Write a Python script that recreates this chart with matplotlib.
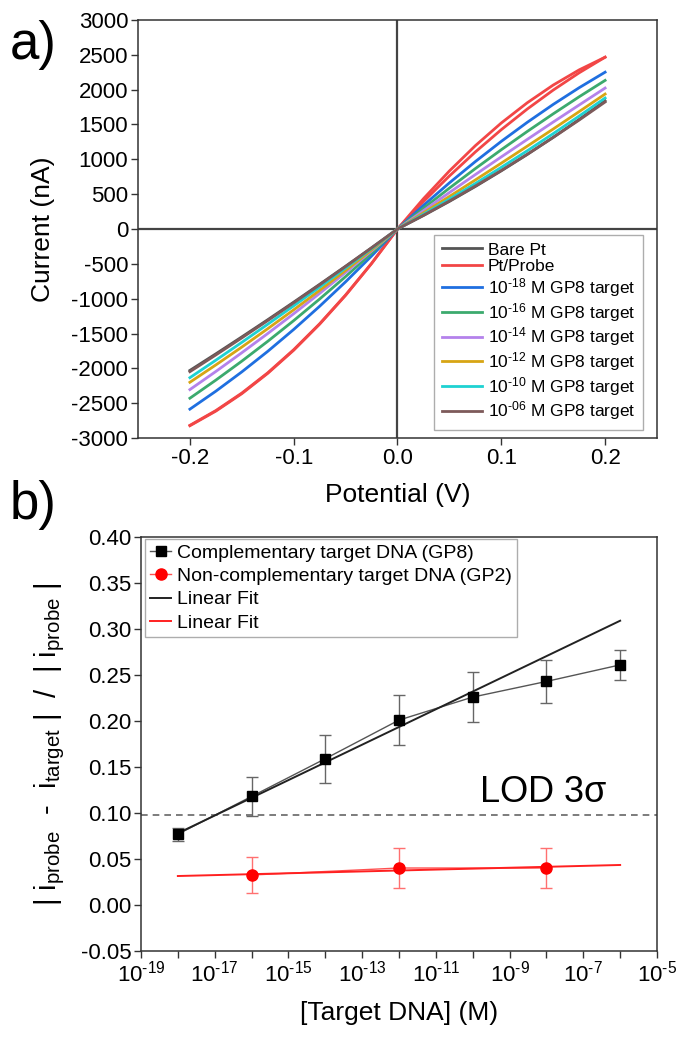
import matplotlib
matplotlib.use("Agg")
import matplotlib.pyplot as plt
import numpy as np
from matplotlib.lines import Line2D

plt.rcParams['font.family'] = ['Liberation Sans', 'DejaVu Sans']
plt.rcParams['mathtext.fontset'] = 'custom'
plt.rcParams['mathtext.rm'] = 'Liberation Sans'
plt.rcParams['mathtext.it'] = 'Liberation Sans:italic'
plt.rcParams['mathtext.default'] = 'regular'

# ---------------- panel a data ----------------
potential = [-0.2, -0.175, -0.15, -0.125, -0.1, -0.075, -0.05, -0.025, 0.0,
             0.025, 0.05, 0.075, 0.1, 0.125, 0.15, 0.175, 0.2]
bare_pt = [-2030, -1792, -1549, -1302, -1050, -794, -534, -269, 0,
           193, 396, 610, 835, 1070, 1316, 1573, 1840]
probe_fwd = [-2824, -2614, -2364, -2072, -1740, -1366, -952, -496, 0,
             393, 761, 1106, 1426, 1722, 1994, 2242, 2466]
probe_rev = [-2818, -2606, -2355, -2064, -1732, -1360, -947, -494, 0,
             435, 833, 1196, 1522, 1812, 2066, 2284, 2466]
t18 = [-2586, -2328, -2051, -1756, -1442, -1109, -758, -388, 0,
       339, 662, 968, 1258, 1531, 1788, 2028, 2251]
t16 = [-2429, -2169, -1897, -1612, -1315, -1005, -683, -348, 0,
       298, 587, 867, 1138, 1400, 1653, 1898, 2133]
t14 = [-2305, -2045, -1776, -1500, -1216, -924, -624, -316, 0,
       263, 523, 781, 1035, 1286, 1535, 1780, 2023]
t12 = [-2200, -1951, -1695, -1431, -1160, -881, -595, -301, 0,
       232, 467, 704, 945, 1189, 1435, 1685, 1937]
t10 = [-2134, -1883, -1627, -1367, -1103, -834, -560, -282, 0,
       211, 429, 653, 885, 1123, 1369, 1621, 1880]
t06 = [-2048, -1808, -1563, -1314, -1060, -802, -539, -272, 0,
       197, 402, 617, 840, 1072, 1314, 1564, 1823]
HY = '\u2010'
iv_labels = ['Bare Pt', 'Pt/Probe',
             r'10$^{%s18}$ M GP8 target' % HY, r'10$^{%s16}$ M GP8 target' % HY,
             r'10$^{%s14}$ M GP8 target' % HY, r'10$^{%s12}$ M GP8 target' % HY,
             r'10$^{%s10}$ M GP8 target' % HY, r'10$^{%s06}$ M GP8 target' % HY]
iv_colors = ['#555555', '#f24646', '#1f6fe0', '#3caa6e', '#b482eb',
             '#d7a514', '#1ed2d2', '#7d5a5a']

# ---------------- panel b data ----------------
gp8_conc = [1e-18, 1e-16, 1e-14, 1e-12, 1e-10, 1e-8, 1e-6]
gp8_resp = [0.077, 0.118, 0.159, 0.201, 0.226, 0.243, 0.261]
gp8_err = [0.007, 0.021, 0.026, 0.027, 0.027, 0.0235, 0.0165]
gp2_conc = [1e-16, 1e-12, 1e-8]
gp2_resp = [0.0326, 0.0402, 0.0402]
gp2_err = [0.020, 0.022, 0.022]
fit_conc = [1e-18, 1e-6]
gp8_fit = [0.078, 0.309]
gp2_fit = [0.0315, 0.0435]
lod_value = 0.098
b_labels = ['Complementary target DNA (GP8)', 'Non-complementary target DNA (GP2)',
            'Linear Fit', 'Linear Fit']

W, H = 676, 1039
fig = plt.figure(figsize=(W / 100, H / 100), dpi=100)

spine_c = '#333333'

def style_axes(ax):
    for s in ax.spines.values():
        s.set_color(spine_c)
        s.set_linewidth(1.1)
    ax.tick_params(direction='out', length=5, width=1.0, color=spine_c,
                   labelsize=16, top=False, right=False, pad=2)

# ---------------- panel a ----------------
ax1 = fig.add_axes([138 / W, 1 - 438 / H, (657 - 138) / W, (438 - 20) / H])
style_axes(ax1)
ax1.axhline(0, color='#444444', lw=1.6, zorder=1)
ax1.axvline(0, color='#444444', lw=1.6, zorder=1)
series = [bare_pt, probe_fwd, t18, t16, t14, t12, t10, t06]
for i, (ys, lab, c) in enumerate(zip(series, iv_labels, iv_colors)):
    ax1.plot(potential, ys, color=c, lw=2.0, label=lab, zorder=2 + i)
    if i == 1:
        ax1.plot(potential, probe_rev, color=c, lw=2.0, zorder=2 + i)
ax1.set_xlim(-0.25, 0.25)
ax1.set_ylim(-3000, 3000)
ax1.set_xticks([-0.2, -0.1, 0.0, 0.1, 0.2])
ax1.set_xticklabels(['-0.2', '-0.1', '0.0', '0.1', '0.2'])
ax1.set_yticks(np.arange(-3000, 3001, 500))
ax1.set_yticklabels([str(v) for v in range(-3000, 3001, 500)])
ax1.set_xlabel('Potential (V)', fontsize=19, labelpad=10)
ax1.set_ylabel('Current (nA)', fontsize=19, labelpad=12)
leg1 = ax1.legend(loc='lower right', fontsize=12.5, frameon=True, fancybox=False,
                  edgecolor='#999999', handlelength=2.3, handletextpad=0.35,
                  labelspacing=0.1, borderpad=0.45, borderaxespad=0,
                  bbox_to_anchor=(0.973, 0.019))
leg1.get_frame().set_linewidth(1.0)
fig.text(10 / W, 1 - 45 / H, 'a)', fontsize=38, va='center', ha='left')

# ---------------- panel b ----------------
ax2 = fig.add_axes([141 / W, 1 - 951 / H, (657 - 141) / W, (951 - 537) / H])
style_axes(ax2)
ax2.set_xscale('log')
ax2.plot(gp8_conc, gp8_resp, color='#555555', lw=1.0, zorder=3)
ax2.errorbar(gp8_conc, gp8_resp, yerr=gp8_err, fmt='none', ecolor='#666666',
             elinewidth=1.0, capsize=4, capthick=1.0, zorder=2)
ax2.plot(gp8_conc, gp8_resp, ls='none', marker='s', ms=7, color='black', zorder=5)
ax2.plot(gp2_conc, gp2_resp, color='#ff5050', lw=1.0, zorder=3)
ax2.errorbar(gp2_conc, gp2_resp, yerr=gp2_err, fmt='none', ecolor='#ff7070',
             elinewidth=1.0, capsize=4, capthick=1.0, zorder=2)
ax2.plot(gp2_conc, gp2_resp, ls='none', marker='o', ms=8, color='#ff0000', zorder=5)
ax2.plot(fit_conc, gp8_fit, color='#222222', lw=1.4, zorder=4)
ax2.plot(fit_conc, gp2_fit, color='#ff2020', lw=1.4, zorder=4)
ax2.axhline(lod_value, color='#666666', lw=1.2, ls=(0, (4, 3)), zorder=1)
ax2.text((543 - 141) / 516, (951 - 793) / 414, r'LOD 3$\sigma$', transform=ax2.transAxes,
         fontsize=26, ha='center', va='center')
ax2.set_xlim(1e-19, 1e-5)
ax2.set_ylim(-0.05, 0.40)
exps = list(range(-19, -4))
ax2.set_xticks([10.0 ** e for e in exps])
ax2.set_xticklabels([r'10$^{%s%d}$' % (HY, -e) if e % 2 else '' for e in exps])
ax2.minorticks_off()
ax2.set_yticks(np.arange(-0.05, 0.401, 0.05))
ax2.set_yticklabels(['%.2f' % v for v in np.arange(-0.05, 0.401, 0.05)])
ax2.set_xlabel('[Target DNA] (M)', fontsize=19, labelpad=10)
ax2.set_ylabel(r'| i$_{\mathrm{probe}}$  -  i$_{\mathrm{target}}$ |  /  | i$_{\mathrm{probe}}$ |',
               fontsize=21, labelpad=10)
handles = [
    Line2D([], [], color='#555555', lw=1.0, marker='s', ms=7, mfc='black', mec='black'),
    Line2D([], [], color='#ff5050', lw=1.0, marker='o', ms=8, mfc='#ff0000', mec='#ff0000'),
    Line2D([], [], color='#222222', lw=1.4),
    Line2D([], [], color='#ff2020', lw=1.4),
]
leg2 = ax2.legend(handles, b_labels, loc='upper left', fontsize=14, frameon=True,
                  fancybox=False, edgecolor='#999999', handlelength=1.1,
                  handletextpad=0.3, labelspacing=0.3, borderpad=0.25,
                  borderaxespad=0, bbox_to_anchor=(0.008, 0.995))
leg2.get_frame().set_linewidth(1.0)
fig.text(10 / W, 1 - 505 / H, 'b)', fontsize=38, va='center', ha='left')

fig.savefig('out.png', dpi=100)
